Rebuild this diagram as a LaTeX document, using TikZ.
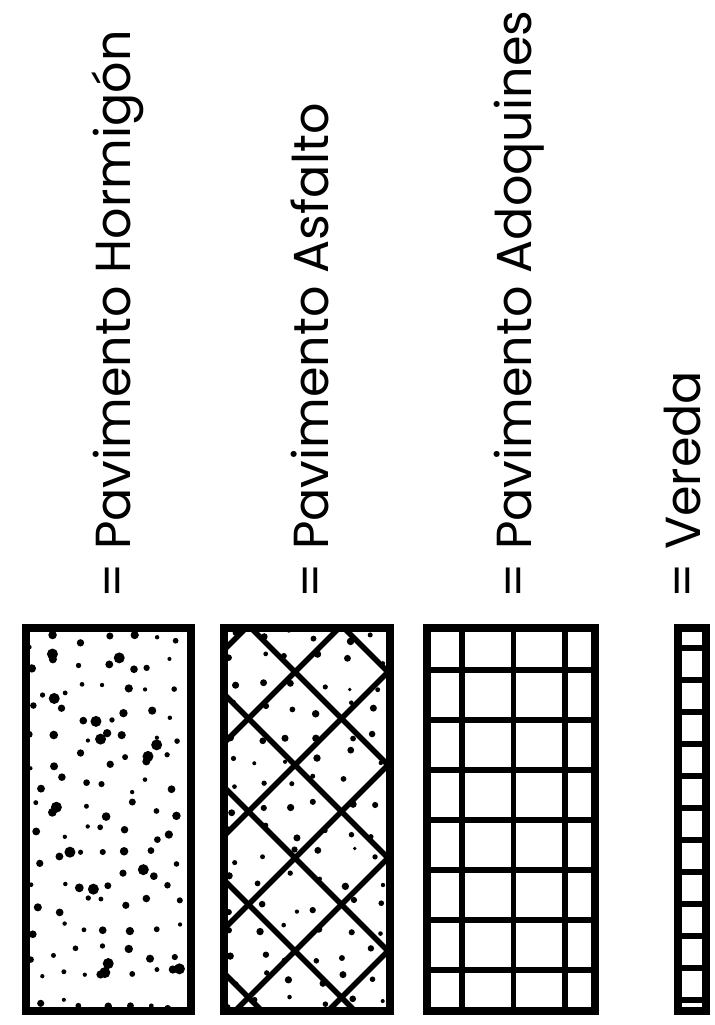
\documentclass[tikz,border=0pt]{standalone}
\usepackage{fontspec}
\setmainfont{Poppins}
\begin{document}
\begin{tikzpicture}[
	x=0.2mm, y=0.2mm,
	every node/.style={
		font=\fontsize{28}{32}\selectfont,
		inner sep=0pt,
		rotate=90,
		anchor=base west
	},
	frame/.style={line width=4pt},
	joint/.style={line width=3.3pt},
	seam/.style={line width=3.2pt}
	]
	\useasboundingbox (0,0) rectangle (714,1025);

	% Labels
	\node (hormigon) at (130,426) {= Pavimento Hormigón};
	\node (asfalto) at (328,426) {= Pavimento Asfalto};
	\node (adoquines) at (531,426) {= Pavimento Adoquines};
	\node (vereda) at (700,426) {= Vereda};

	% Hormigon: stipple
	\pgfmathsetseed{17}
	\begin{scope}
		\clip (26,14) rectangle (191,397);
		\foreach \i in {0,...,6} {
			\foreach \j in {0,...,15} {
				\pgfmathsetmacro{\px}{36+\i*23+14*(rnd-0.5)}
				\pgfmathsetmacro{\py}{24+\j*24+16*(rnd-0.5)}
				\pgfmathsetmacro{\pr}{2+2.4*rnd}
				\fill (\px,\py) circle (\pr);
			}
		}
		\foreach \i in {1,...,14} {
			\pgfmathsetmacro{\px}{36+145*rnd}
			\pgfmathsetmacro{\py}{24+360*rnd}
			\fill (\px,\py) circle (5.5);
		}
	\end{scope}
	\draw[frame] (26,14) rectangle (191,397);

	% Asfalto: diamonds and stipple
	\begin{scope}
		\clip (224,14) rectangle (390,397);
		\foreach \i in {0,...,5} {
			\foreach \j in {0,...,15} {
				\pgfmathsetmacro{\px}{232+\i*29+14*(rnd-0.5)}
				\pgfmathsetmacro{\py}{22+\j*24.5+16*(rnd-0.5)}
				\pgfmathsetmacro{\pr}{1.8+2*rnd}
				\fill (\px,\py) circle (\pr);
			}
		}
		\foreach \m in {-151,-58,...,314}
			\draw[seam] (200,200-\m) -- (420,420-\m);
		\foreach \s in {276,369,...,741}
			\draw[seam] (200,\s-200) -- (420,\s-420);
	\end{scope}
	\draw[frame] (224,14) rectangle (390,397);

	% Adoquines: grid
	\foreach \x in {462,513.5,565}
		\draw[joint] (\x,14) -- (\x,397);
	\foreach \y in {55,105,...,355}
		\draw[joint] (427,\y) -- (595,\y);
	\draw[frame] (427,14) rectangle (595,397);

	% Vereda: strip
	\foreach \k in {0,...,11}
		\draw[seam] (678,377-32*\k) -- (706,377-32*\k);
	\draw[frame] (678,14) rectangle (706,397);
\end{tikzpicture}
\end{document}
